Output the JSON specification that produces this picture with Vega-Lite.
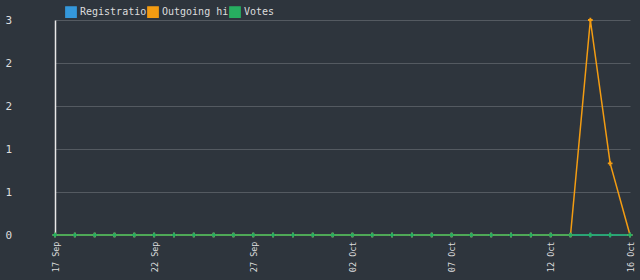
{
  "$schema": "https://vega.github.io/schema/vega-lite/v6.json",
  "autosize": "none",
  "width": 575,
  "height": 215,
  "padding": {"left": 55, "top": 20, "right": 10, "bottom": 45},
  "background": "#2e353d",
  "config": {
    "view": {"stroke": null},
    "font": "DejaVu Sans Mono",
    "axis": {"labelColor": "#dddddd", "labelFont": "DejaVu Sans Mono"},
    "legend": {"labelColor": "#dddddd", "labelFont": "DejaVu Sans Mono"}
  },
  "data": {
    "values": [
      {"d": "17 Sep", "Registrations": 0, "Outgoing hits": 0, "Votes": 0},
      {"d": "18 Sep", "Registrations": 0, "Outgoing hits": 0, "Votes": 0},
      {"d": "19 Sep", "Registrations": 0, "Outgoing hits": 0, "Votes": 0},
      {"d": "20 Sep", "Registrations": 0, "Outgoing hits": 0, "Votes": 0},
      {"d": "21 Sep", "Registrations": 0, "Outgoing hits": 0, "Votes": 0},
      {"d": "22 Sep", "Registrations": 0, "Outgoing hits": 0, "Votes": 0},
      {"d": "23 Sep", "Registrations": 0, "Outgoing hits": 0, "Votes": 0},
      {"d": "24 Sep", "Registrations": 0, "Outgoing hits": 0, "Votes": 0},
      {"d": "25 Sep", "Registrations": 0, "Outgoing hits": 0, "Votes": 0},
      {"d": "26 Sep", "Registrations": 0, "Outgoing hits": 0, "Votes": 0},
      {"d": "27 Sep", "Registrations": 0, "Outgoing hits": 0, "Votes": 0},
      {"d": "28 Sep", "Registrations": 0, "Outgoing hits": 0, "Votes": 0},
      {"d": "29 Sep", "Registrations": 0, "Outgoing hits": 0, "Votes": 0},
      {"d": "30 Sep", "Registrations": 0, "Outgoing hits": 0, "Votes": 0},
      {"d": "01 Oct", "Registrations": 0, "Outgoing hits": 0, "Votes": 0},
      {"d": "02 Oct", "Registrations": 0, "Outgoing hits": 0, "Votes": 0},
      {"d": "03 Oct", "Registrations": 0, "Outgoing hits": 0, "Votes": 0},
      {"d": "04 Oct", "Registrations": 0, "Outgoing hits": 0, "Votes": 0},
      {"d": "05 Oct", "Registrations": 0, "Outgoing hits": 0, "Votes": 0},
      {"d": "06 Oct", "Registrations": 0, "Outgoing hits": 0, "Votes": 0},
      {"d": "07 Oct", "Registrations": 0, "Outgoing hits": 0, "Votes": 0},
      {"d": "08 Oct", "Registrations": 0, "Outgoing hits": 0, "Votes": 0},
      {"d": "09 Oct", "Registrations": 0, "Outgoing hits": 0, "Votes": 0},
      {"d": "10 Oct", "Registrations": 0, "Outgoing hits": 0, "Votes": 0},
      {"d": "11 Oct", "Registrations": 0, "Outgoing hits": 0, "Votes": 0},
      {"d": "12 Oct", "Registrations": 0, "Outgoing hits": 0, "Votes": 0},
      {"d": "13 Oct", "Registrations": 0, "Outgoing hits": 0, "Votes": 0},
      {"d": "14 Oct", "Registrations": 0, "Outgoing hits": 3, "Votes": 0},
      {"d": "15 Oct", "Registrations": 0, "Outgoing hits": 1, "Votes": 0},
      {"d": "16 Oct", "Registrations": 0, "Outgoing hits": 0, "Votes": 0}
    ]
  },
  "transform": [
    {"fold": ["Registrations", "Outgoing hits", "Votes"], "as": ["series", "value"]}
  ],
  "encoding": {
    "x": {
      "field": "d",
      "type": "ordinal",
      "sort": null,
      "scale": {"type": "point", "padding": 0},
      "axis": {
        "title": null,
        "values": ["17 Sep", "22 Sep", "27 Sep", "02 Oct", "07 Oct", "12 Oct", "16 Oct"],
        "labelAngle": -90,
        "labelFontSize": 8.5,
        "labelPadding": 6,
        "ticks": false,
        "domain": false,
        "grid": false
      }
    },
    "y": {
      "field": "value",
      "type": "quantitative",
      "scale": {"domain": [0, 3], "nice": false},
      "axis": {
        "title": null,
        "values": [0, 0.6, 1.2, 1.8, 2.4, 3],
        "format": ".0f",
        "labelAlign": "left",
        "labelPadding": 50,
        "labelFontSize": 11,
        "ticks": false,
        "domain": true,
        "domainColor": "#e8e8e8",
        "domainWidth": 1.5,
        "grid": true,
        "gridColor": "#545a61",
        "gridWidth": 1
      }
    },
    "color": {
      "field": "series",
      "type": "nominal",
      "scale": {
        "domain": ["Registrations", "Outgoing hits", "Votes"],
        "range": ["#3498db", "#f39c12", "#27ae60"]
      },
      "legend": {
        "title": null,
        "orient": "none",
        "legendX": 10,
        "legendY": -14,
        "direction": "horizontal",
        "symbolType": "square",
        "symbolSize": 110,
        "symbolStrokeWidth": 1,
        "symbolOffset": 0,
        "labelFontSize": 10,
        "labelLimit": 80,
        "labelExpr": "slice(datum.label, 0, 11)",
        "labelOffset": 3,
        "columnPadding": -4,
        "encode": {
          "symbols": {
            "enter": {"stroke": {"value": "#dddddd"}, "strokeWidth": {"value": 1.2}},
            "update": {"stroke": {"value": "#dddddd"}, "strokeWidth": {"value": 1.2}}
          }
        }
      }
    }
  },
  "layer": [
    {"mark": {"type": "line", "strokeWidth": 1.5}},
    {"mark": {"type": "point", "shape": "cross", "filled": true, "size": 22, "opacity": 1}}
  ]
}
